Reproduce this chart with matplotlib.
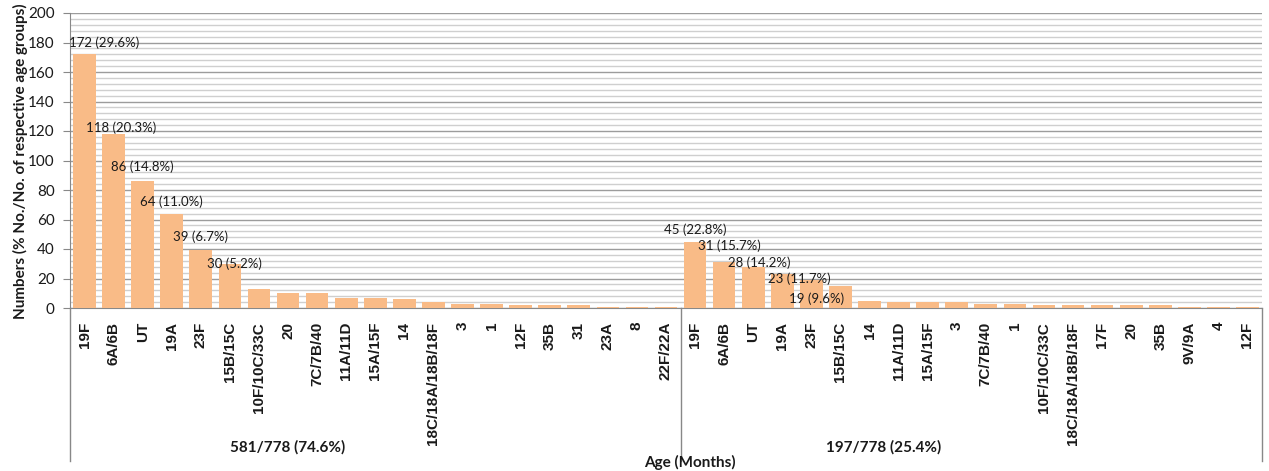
import numpy as np
import matplotlib.pyplot as plt
from matplotlib.ticker import MultipleLocator
import matplotlib.transforms as mtransforms

# Serotypes by age group (left: first group, right: second group)
left_types = ["19F", "6A/6B", "UT", "19A", "23F", "15B/15C", "10F/10C/33C", "20",
              "7C/7B/40", "11A/11D", "15A/15F", "14", "18C/18A/18B/18F", "3", "1",
              "12F", "35B", "31", "23A", "8", "22F/22A"]
left_counts = [172, 118, 86, 64, 39, 30, 13, 10, 10, 7, 7, 6, 4, 3, 3, 2, 2, 2, 1, 1, 1]

right_types = ["19F", "6A/6B", "UT", "19A", "23F", "15B/15C", "14", "11A/11D", "15A/15F",
               "3", "7C/7B/40", "1", "10F/10C/33C", "18C/18A/18B/18F", "17F", "20",
               "35B", "9V/9A", "4", "12F"]
right_counts = [45, 31, 28, 23, 19, 15, 5, 4, 4, 4, 3, 3, 2, 2, 2, 2, 2, 1, 1, 1]

group_labels = ["581/778 (74.6%)", "197/778 (25.4%)"]

# placement of the value labels (offset from bar centre, label centre height)
left_lab_dx = [0.67, 0.26, 0.0, 0.0, 0.0, 0.17]
left_lab_y = [179.7, 122, 95.6, 72, 48, 30]
right_lab_dx = [0.0, 0.17, 0.2, 0.57, 0.19]
right_lab_y = [53, 42, 31, 20, 6]

bar_color = "#F9BB87"
txt = "#1a1a1a"
label_font = "Lato"
tick_font = "Liberation Sans"

fig = plt.figure(figsize=(12.69, 4.71), dpi=100)
ax = fig.add_axes([70 / 1269, 1 - 308 / 471, 1192 / 1269, 295 / 471])

types = left_types + right_types
counts = left_counts + right_counts
x = np.arange(len(types))
ax.bar(x, counts, width=0.78, color=bar_color, zorder=3)

ax.set_xlim(-0.5, len(types) - 0.5)
ax.set_ylim(0, 200)
ax.yaxis.set_major_locator(MultipleLocator(20))
ax.yaxis.set_minor_locator(MultipleLocator(4))
ax.grid(which="major", axis="y", color="#9c9c9c", linewidth=1.0, zorder=0)
ax.grid(which="minor", axis="y", color="#cfcfcf", linewidth=1.0, zorder=0)
ax.tick_params(axis="y", which="major", length=5, color="#888888", labelsize=11,
               labelcolor=txt, pad=6)
ax.tick_params(axis="y", which="minor", length=0)
for lab in ax.get_yticklabels():
    lab.set_fontfamily(label_font)

ax.set_xticks(x)
ax.set_xticklabels(types, rotation=90, fontfamily=tick_font, fontweight="bold",
                   fontsize=11, color=txt)
ax.tick_params(axis="x", length=0, pad=10)

for s in ["top", "right"]:
    ax.spines[s].set_visible(False)
ax.spines["left"].set_color("#888888")
ax.spines["bottom"].set_color("#888888")

# multilevel category box below the axis
trans = mtransforms.blended_transform_factory(ax.transData, ax.transAxes)
n_left = len(left_types)
for xv in [-0.5, n_left - 0.5, len(types) - 0.5]:
    ax.plot([xv, xv], [0, -0.52], transform=trans, color="#888888", lw=1.0,
            clip_on=False)
ax.text((n_left - 1) / 2 - 3, -0.471, group_labels[0], transform=trans, ha="center",
        va="center", fontfamily=label_font, fontweight="bold", fontsize=11, color=txt)
ax.text(n_left + (len(right_types) - 1) / 2 - 3, -0.471, group_labels[1],
        transform=trans, ha="center", va="center", fontfamily=label_font,
        fontweight="bold", fontsize=11, color=txt)

# value labels on the top bars
total_left = sum(left_counts)
total_right = sum(right_counts)
for i, (dx, yy) in enumerate(zip(left_lab_dx, left_lab_y)):
    v = left_counts[i]
    ax.text(i + dx, yy, f"{v} ({v / total_left * 100:.1f}%)", ha="center", va="center",
            fontfamily=label_font, fontsize=9.5, color=txt, zorder=5)
for i, (dx, yy) in enumerate(zip(right_lab_dx, right_lab_y)):
    v = right_counts[i]
    ax.text(n_left + i + dx, yy, f"{v} ({v / total_right * 100:.1f}%)", ha="center",
            va="center", fontfamily=label_font, fontsize=9.5, color=txt, zorder=5)

fig.text(20 / 1269, 1 - 161 / 471, "Numbers (% No./No. of respective age groups)",
         rotation=90, ha="center", va="center", fontfamily=label_font,
         fontweight="bold", fontsize=11, color=txt)
fig.text(690 / 1269, 1 - 462 / 471, "Age (Months)", ha="center", va="center",
         fontfamily=label_font, fontweight="bold", fontsize=11, color=txt)

fig.savefig("out.png", dpi=100, facecolor="white")
